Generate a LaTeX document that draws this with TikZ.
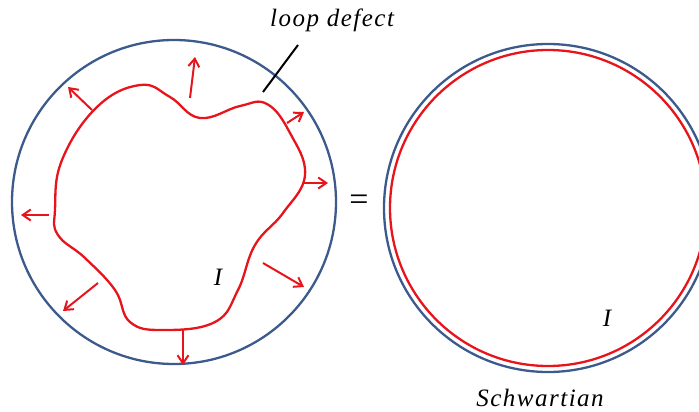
\documentclass[tikz,border=0pt]{standalone}
\usepackage{fontspec}
\setmainfont{Liberation Serif}
\newfontfamily\lblfont[LetterSpace=6]{Liberation Serif}
\usetikzlibrary{arrows.meta}
\definecolor{rimblue}{HTML}{3C5A8C}
\definecolor{loopred}{HTML}{E8141C}
\tikzset{
  rim/.style={draw=rimblue,line width=2.3pt},
  loopline/.style={draw=loopred,line width=2.3pt},
  growarrow/.style={loopred,line width=2pt,-{Straight Barb[length=8pt,width=11pt]}},
  lbl/.style={font=\lblfont\itshape\fontsize{25}{27}\selectfont,inner sep=0pt}
}
\begin{document}
\begin{tikzpicture}[x=1pt,y=-1pt]
\useasboundingbox (0,0) rectangle (699,412);
\draw[rim] (174,202) circle (162);
\draw[loopline] plot[smooth cycle,tension=0.7] coordinates {
  (55,210) (62,160) (97,107) (140,85) (170,97) (200,118) (240,106) (267,104)
  (290,133) (305,175) (283,213) (255,245) (238,290) (215,322) (163,330)
  (130,322) (115,290) (85,258) (58,235)};
\draw[growarrow] (190,98) -- (195,57);
\draw[growarrow] (92,110) -- (68,87);
\draw[growarrow] (287,123) -- (304,112);
\draw[growarrow] (303,183) -- (328,183);
\draw[growarrow] (49,215) -- (21,215);
\draw[growarrow] (263,263) -- (304,287);
\draw[growarrow] (98,283) -- (63,311);
\draw[growarrow] (183,330) -- (183,365);
\node[lbl] (defect) at (332,20) {loop defect};
\coordinate (tick) at (263,92);
\draw[line width=2pt] (298,45) -- (tick);
\node[lbl] (iLeft) at (218,277) {I};
\node[font=\fontsize{34}{34}\selectfont,inner sep=0pt] (eq) at (359,203) {=};
\draw[rim] (548,208) circle (164);
\draw[loopline] (548,208) circle (158);
\node[lbl] (iRight) at (607,318) {I};
\node[lbl] (schwartz) at (540,398) {Schwartian};
\end{tikzpicture}
\end{document}
